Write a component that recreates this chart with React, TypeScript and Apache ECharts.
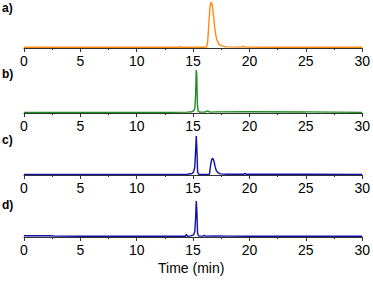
import React, { useEffect, useRef } from "react";
import * as echarts from "echarts";

const xTicks = [0, 5, 10, 15, 20, 25, 30];
const panelLabels = ["a)", "b)", "c)", "d)"];
const axisTitle = "Time (min)";

const timeA = [0, 2, 5, 8, 10, 12, 13.7, 13.8, 13.9, 15, 16.0, 16.2, 16.3, 16.4, 16.5, 16.6, 16.7, 16.8, 16.9, 17.0, 17.1, 17.3, 17.6, 18.0, 19.3, 19.4, 19.5, 22, 25, 28, 30];
const valueA = [1.5, 1.5, 1.5, 1.5, 1.5, 1.5, 1.5, 3, 1.5, 1.5, 1.5, 2, 15, 55, 90, 100, 93, 72, 48, 30, 18, 8, 4, 2.5, 2, 4, 2, 1.5, 1.5, 1.5, 1.5];

const timeB = [0, 5, 10, 13, 14.5, 14.9, 15.05, 15.15, 15.22, 15.28, 15.32, 15.38, 15.45, 15.6, 16.0, 16.2, 16.3, 16.4, 16.6, 17, 20, 25, 27.5, 30];
const valueB = [1.5, 1.5, 1.5, 1.5, 2, 3, 5, 10, 40, 100, 90, 20, 4, 2, 2, 3.5, 5, 3, 2, 2.5, 3, 2.5, 2, 1.5];

const timeC = [0, 5, 10, 13.5, 14.5, 14.9, 15.05, 15.15, 15.22, 15.28, 15.33, 15.4, 15.5, 16.0, 16.45, 16.55, 16.65, 16.75, 16.85, 16.95, 17.05, 17.2, 17.4, 18, 19.5, 19.6, 19.7, 25, 30];
const valueC = [1.5, 1.5, 1.5, 1.5, 2, 4, 8, 20, 60, 100, 70, 8, 2, 1.5, 2, 25, 40, 43, 35, 22, 12, 6, 3, 2, 2, 4, 2, 2, 1.5];

const timeD = [0, 1, 2.3, 2.8, 5, 10, 13, 14.3, 14.4, 14.5, 14.8, 15.05, 15.15, 15.22, 15.28, 15.33, 15.4, 15.5, 15.9, 16.0, 16.1, 17, 18, 20, 25, 30];
const valueD = [3.5, 3.5, 3.5, 2.5, 2, 2, 2, 2, 7, 2, 3, 6, 15, 50, 100, 75, 10, 2.5, 2.5, 5, 2.5, 3, 2.5, 2, 2, 2];

const colors = ["#ff8a12", "#1e8c1e", "#1010a8", "#1010a8"];
const panels = [
  { t: timeA, v: valueA },
  { t: timeB, v: valueB },
  { t: timeC, v: valueC },
  { t: timeD, v: valueD },
];
const gridTops = [2, 70, 136, 201];
const gridHeights = [46, 43, 39, 36];
const labelTops = [2, 68, 134, 199];

export default function App() {
  const ref = useRef<HTMLDivElement>(null);
  useEffect(() => {
    if (!ref.current) return;
    const chart = echarts.init(ref.current, null, { renderer: "svg" });
    const font = "Liberation Sans, Arial, sans-serif";
    const grids = panels.map((_, i) => ({
      left: 24,
      right: 9,
      top: gridTops[i],
      height: gridHeights[i],
    }));
    const xAxes = panels.map((_, i) => ({
      type: "value",
      gridIndex: i,
      min: xTicks[0],
      max: xTicks[xTicks.length - 1],
      interval: 5,
      axisLine: { show: true, lineStyle: { color: "#333", width: 1 } },
      axisTick: { show: true, length: 4, lineStyle: { color: "#333" } },
      minorTick: { show: true, splitNumber: 2, length: 2, lineStyle: { color: "#333" } },
      splitLine: { show: false },
      axisLabel: { fontSize: 14, color: "#000", fontFamily: font, margin: 6 },
    }));
    const yAxes = panels.map((_, i) => ({
      type: "value",
      gridIndex: i,
      min: 0,
      max: 100,
      show: false,
    }));
    const series = panels.map((p, i) => ({
      type: "line",
      xAxisIndex: i,
      yAxisIndex: i,
      data: p.t.map((t, j) => [t, p.v[j]]),
      showSymbol: false,
      symbol: "none",
      lineStyle: { color: colors[i], width: 1.4 },
      z: 3,
    }));
    const graphic: any[] = panelLabels.map((l, i) => ({
      type: "text",
      left: 2,
      top: labelTops[i],
      style: { text: l, font: `bold 12px ${font}`, fill: "#000" },
    }));
    graphic.push({
      type: "text",
      left: 158,
      top: 261,
      style: { text: axisTitle, font: `14px ${font}`, fill: "#000" },
    });
    chart.setOption({
      animation: false,
      grid: grids,
      xAxis: xAxes,
      yAxis: yAxes,
      series,
      graphic,
    });
    return () => chart.dispose();
  }, []);
  return <div ref={ref} style={{ width: 373, height: 281, position: "absolute", left: 0, top: 0, background: "#fff" }} />;
}
